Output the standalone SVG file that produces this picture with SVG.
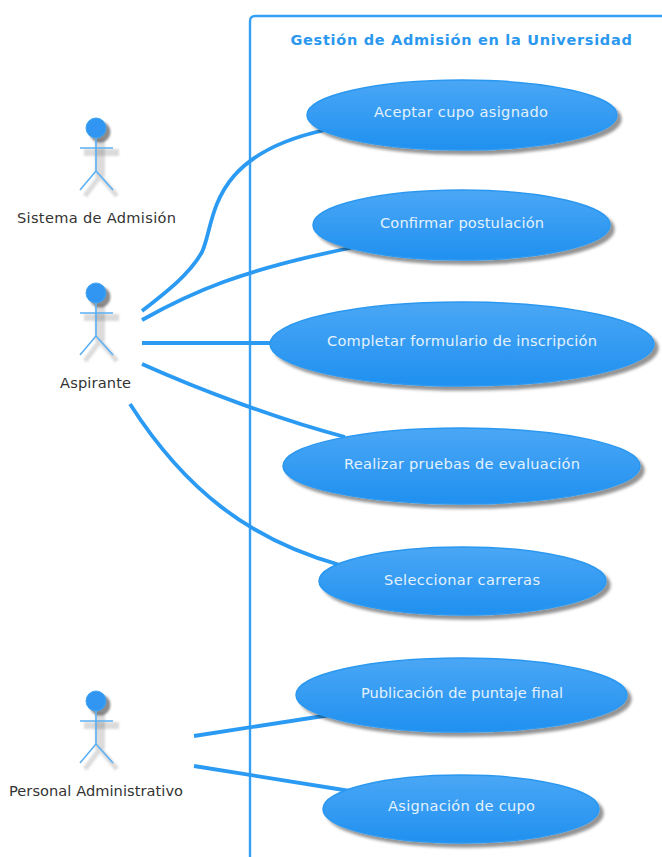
<svg xmlns="http://www.w3.org/2000/svg" width="662" height="857" viewBox="0 0 662 857">
<style>
text{font-family:"DejaVu Sans","Liberation Sans",sans-serif;}
.uc ellipse{fill:url(#g);stroke:#2b98f0;stroke-width:1.5;filter:url(#s);}
.uc text{fill:#e3f2fd;font-size:14.600px;text-anchor:middle;}
.actor text{fill:#333;font-size:14.600px;text-anchor:middle;}
.sh{stroke:#000;stroke-opacity:.14;stroke-width:5;fill:none;filter:url(#b);}
.sr{fill:#000;fill-opacity:.14;filter:url(#b);}
.hs{fill:#000;fill-opacity:.45;filter:url(#b);}
.h{fill:#3096f2;stroke:#42a5f5;stroke-width:1;}
.l{stroke:#5cb0f4;stroke-width:1.6;fill:none;}
#connectors path{fill:none;stroke:#2b9af3;stroke-width:3.800;}
</style>
<defs>
<linearGradient id="g" x1="0" y1="0" x2="0" y2="1"><stop offset="0" stop-color="#4aa7f5"/><stop offset="1" stop-color="#2090f0"/></linearGradient>
<filter id="s" x="-10%" y="-20%" width="120%" height="145%"><feGaussianBlur in="SourceAlpha" stdDeviation="1.800"/><feOffset dx="3.500" dy="3.500"/><feColorMatrix type="matrix" values="0 0 0 0 0 0 0 0 0 0 0 0 0 0 0 0 0 0 .42 0"/><feMerge><feMergeNode/><feMergeNode in="SourceGraphic"/></feMerge></filter>
<filter id="b" x="-50%" y="-50%" width="200%" height="200%"><feGaussianBlur stdDeviation="1.200"/></filter>
<g id="fig"><rect class="sr" x="95" y="140" width="10" height="36"/><rect class="sr" x="84" y="149" width="35" height="7"/><path class="sh" d="M100 176L85 196M100 176L117 196"/><circle class="hs" cx="100" cy="132" r="10.500"/><circle class="h" cx="96" cy="128" r="10"/><path class="l" d="M96 138V171M80 148H113M96 171L80 190M96 171L113 190"/></g>
</defs>
<g id="boundary"><path d="M250 857V21Q250 16 255 16H662" fill="none" stroke="#36a0f5" stroke-width="2.400"/><text x="461.500" y="45" text-anchor="middle" font-size="14.500" font-weight="700" fill="#2b98f0" letter-spacing=".7">Gestión de Admisión en la Universidad</text></g>
<g id="connectors">
<path d="M142 311C165 293 190 274 202 252C216 222 206 156 325 130"/>
<path d="M142 320C190 293 240 270 355 247"/>
<path d="M142 343H275"/>
<path d="M142 364C200 390 280 420 345 437"/>
<path d="M130 404C185 490 250 540 340 565"/>
<path d="M194 736L330 715"/>
<path d="M194 766L350 791"/>
</g>
<g id="uc1" class="uc"><ellipse cx="462" cy="115" rx="155" ry="35"/><text x="461" y="117" textLength="174">Aceptar cupo asignado</text></g>
<g id="uc2" class="uc"><ellipse cx="461.500" cy="225" rx="148.500" ry="35"/><text x="462" y="228" textLength="164">Confirmar postulación</text></g>
<g id="uc3" class="uc"><ellipse cx="462" cy="344" rx="192" ry="42"/><text x="462" y="346" textLength="270">Completar formulario de inscripción</text></g>
<g id="uc4" class="uc"><ellipse cx="461.500" cy="466" rx="178.500" ry="38"/><text x="462" y="469" textLength="236">Realizar pruebas de evaluación</text></g>
<g id="uc5" class="uc"><ellipse cx="462.500" cy="581" rx="143.500" ry="34"/><text x="462" y="585" textLength="156">Seleccionar carreras</text></g>
<g id="uc6" class="uc"><ellipse cx="461.500" cy="695" rx="165.500" ry="37"/><text x="462" y="698" textLength="202">Publicación de puntaje final</text></g>
<g id="uc7" class="uc"><ellipse cx="461" cy="809" rx="138" ry="34"/><text x="461.500" y="811" textLength="147">Asignación de cupo</text></g>
<g id="actor1" class="actor"><use href="#fig"/><text x="96.500" y="222.500" textLength="159">Sistema de Admisión</text></g>
<g id="actor2" class="actor"><use href="#fig" y="165"/><text x="95.500" y="387.500" textLength="71">Aspirante</text></g>
<g id="actor3" class="actor"><use href="#fig" y="573"/><text x="96" y="795.500" textLength="174">Personal Administrativo</text></g>
</svg>
